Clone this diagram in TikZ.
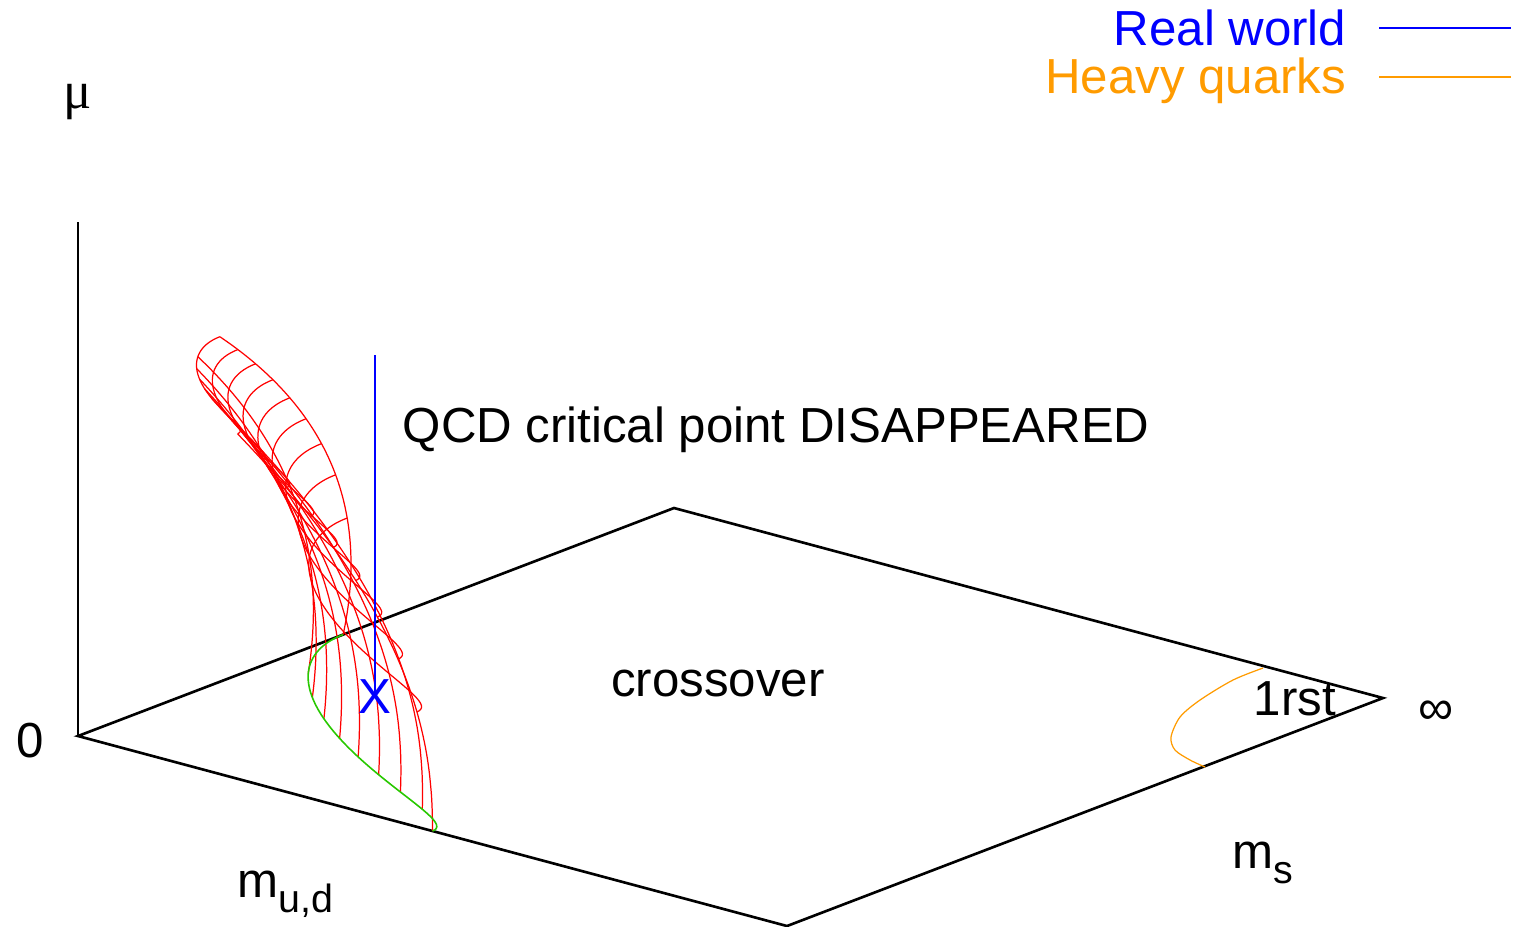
\documentclass[tikz,border=0pt]{standalone}
\usepackage{fontspec}
\setmainfont{Liberation Sans}
\newfontfamily\greekfont{Liberation Serif}
\usetikzlibrary{calc}
\definecolor{realblue}{RGB}{0, 0, 255}
\definecolor{heavyorange}{RGB}{255, 155, 0}
\definecolor{surfred}{RGB}{255, 0, 0}
\definecolor{chiralgreen}{RGB}{40, 200, 0}
\tikzstyle{axisline} = [black, line width=0.75pt]
\tikzstyle{mesh} = [surfred, line width=0.35pt]
\tikzstyle{lbl} = [inner sep=0pt, font=\fontsize{14}{16}\selectfont]
\newcommand{\sub}[1]{\raisebox{-4.3pt}{\fontsize{11.2}{12}\selectfont #1}}

\begin{document}
\begin{tikzpicture}[x=0.01cm, y=-0.01cm,
    declare function={
        lama(\ta)=1-0.55*max(\ta,0.001)^2.3;
        lamb(\ta)=1+0.3*\ta-0.765*\ta*\ta;
        px(\th,\ta)=78+354.5*sin(\th)^2*lama(\ta)+265.2*cos(\th)*(1-0.71*sin(\th))*lamb(\ta);
        py(\th,\ta)=736+95*sin(\th)^2*lama(\ta)-101.5*cos(\th)*(1-0.71*sin(\th))*lamb(\ta)-345*\ta;
    }]
    \useasboundingbox (0,0) rectangle (1522,926);

    % Plane (m_ud, m_s) at mu = 0
    \coordinate (origin) at (78,736);
    \coordinate (back) at (674,508);
    \coordinate (inf) at (1383,698);
    \coordinate (front) at (787,926);
    \coordinate (mutop) at (78,222);
    \draw[axisline] (origin) -- (back) -- (inf) -- (front) -- cycle;
    \draw[axisline] (origin) -- (mutop);

    % Critical surface, lines of constant mu
    \foreach \k in {0,...,8} {
        \pgfmathsetmacro\tk{sqrt(1-\k/9)}
        \draw[mesh] plot[variable=\vv, domain=0:90, samples=46, smooth] ({px(\vv,\tk)},{py(\vv,\tk)});
    }
    % Critical surface, lines of constant m_ud
    \foreach \j in {0,...,9} {
        \pgfmathsetmacro\thj{asin(sqrt(\j/9))}
        \draw[mesh] plot[variable=\vv, domain=0:1, samples=31, smooth] ({px(\thj,\vv)},{py(\thj,\vv)});
    }
    % Chiral critical line at mu = 0
    \draw[chiralgreen, line width=0.45pt] plot[variable=\vv, domain=0:90, samples=46, smooth] ({px(\vv,0)},{py(\vv,0)});

    % Heavy quark critical line
    \draw[heavyorange, line width=0.35pt] plot[smooth] coordinates {(1263,668) (1233,680) (1200,700) (1180,717) (1171,737) (1175,750) (1190,760) (1205,767)};

    % Physical point
    \coordinate (rwtop) at (375,355);
    \node[lbl, realblue] (physpt) at (375,697) {X};
    \draw[realblue, line width=0.45pt] (rwtop) -- (physpt.center);

    % Labels
    \node[lbl, anchor=base, font=\fontsize{15}{16}\selectfont] (mulbl) at (78,108) {\greekfont μ};
    \node[lbl, anchor=base] (zerolbl) at (30,757) {0};
    \node[lbl, anchor=base west] (mudlbl) at (237,897) {m\sub{u,d}};
    \node[lbl, anchor=base west] (mslbl) at (1232,868) {m\sub{s}};
    \node[lbl] (inflbl) at (1436,713) {∞};
    \node[lbl, anchor=base west] (firstlbl) at (1253,715) {1rst};
    \node[lbl] (crosslbl) at (718,683) {crossover};
    \node[lbl, anchor=base west] (qcdlbl) at (402,442) {QCD critical point DISAPPEARED};

    % Legend
    \node[lbl, realblue, anchor=base east] (rwlbl) at (1347,45) {Real world};
    \node[lbl, heavyorange, anchor=base east] (hqlbl) at (1347,93) {Heavy quarks};
    \coordinate (rwa) at (1379,28);
    \coordinate (rwb) at (1511,28);
    \coordinate (hqa) at (1379,77);
    \coordinate (hqb) at (1511,77);
    \draw[realblue, line width=0.3pt] (rwa) -- (rwb);
    \draw[heavyorange, line width=0.3pt] (hqa) -- (hqb);
\end{tikzpicture}
\end{document}
